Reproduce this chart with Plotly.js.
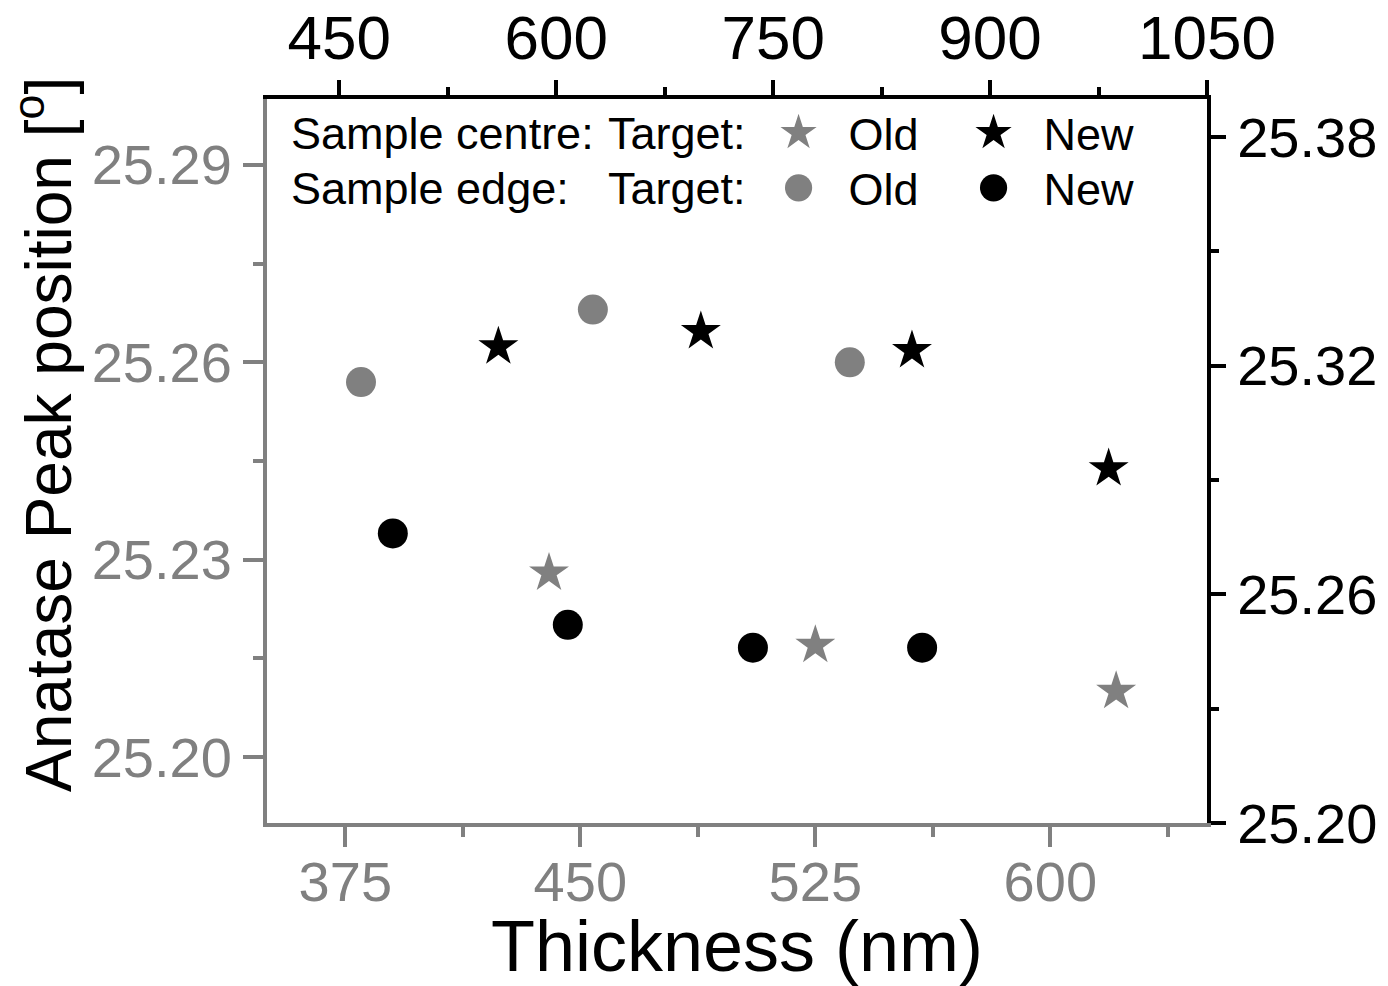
<!DOCTYPE html>
<html>
<head>
<meta charset="utf-8">
<script src="https://cdn.plot.ly/plotly-3.0.1.min.js"></script>
<style>html,body{margin:0;padding:0;background:#fff;}#chart{width:1388px;height:986px;}</style>
</head>
<body>
<div id="chart"></div>
<script>
// Old target (bottom / left axes, gray)
const oldCentreX = [440, 525, 621];
const oldCentreY = [25.228, 25.217, 25.210];
const oldEdgeX = [380, 454, 536];
const oldEdgeY = [25.257, 25.268, 25.260];
// New target (top / right axes, black)
const newCentreX = [560, 700, 846, 982];
const newCentreY = [25.325, 25.329, 25.324, 25.293];
const newEdgeX = [487, 608, 736, 853];
const newEdgeY = [25.276, 25.252, 25.246, 25.246];

const bottomTicks = [375, 450, 525, 600];
const topTicks = [450, 600, 750, 900, 1050];
const leftTicks = [25.20, 25.23, 25.26, 25.29];
const rightTicks = [25.20, 25.26, 25.32, 25.38];

const GRAY = '#808080';
const FONT = 'Liberation Sans, Arial, sans-serif';

const traces = [
  {x: oldCentreX, y: oldCentreY, xaxis: 'x', yaxis: 'y', mode: 'markers', name: 'Old', legend: 'legend',
   marker: {symbol: 'star', size: 30, color: GRAY}},
  {x: newCentreX, y: newCentreY, xaxis: 'x2', yaxis: 'y2', mode: 'markers', name: 'New', legend: 'legend',
   marker: {symbol: 'star', size: 30, color: '#000'}},
  {x: oldEdgeX, y: oldEdgeY, xaxis: 'x', yaxis: 'y', mode: 'markers', name: 'Old', legend: 'legend2',
   marker: {symbol: 'circle', size: 30, color: GRAY}},
  {x: newEdgeX, y: newEdgeY, xaxis: 'x2', yaxis: 'y2', mode: 'markers', name: 'New', legend: 'legend2',
   marker: {symbol: 'circle', size: 30, color: '#000'}}
];

const legendCommon = {
  orientation: 'h', xanchor: 'left', yanchor: 'middle',
  font: {family: FONT, size: 45, color: '#000'},
  bgcolor: 'rgba(0,0,0,0)', borderwidth: 0,
  entrywidth: 90, entrywidthmode: 'pixels',
  itemwidth: 90, traceorder: 'normal'
};

const labelFont = {family: FONT, size: 45, color: '#000'};
function label(text, xPaper, yPaper) {
  return {text: text, xref: 'paper', yref: 'paper', x: xPaper, y: yPaper,
          xanchor: 'left', yanchor: 'middle', showarrow: false, font: labelFont};
}

const layout = {
  width: 1388, height: 986,
  margin: {l: 267, r: 181, t: 99, b: 163, pad: 0},
  paper_bgcolor: '#fff', plot_bgcolor: '#fff',
  font: {family: FONT, color: '#000'},
  showlegend: true,
  legend: Object.assign({}, legendCommon, {x: 0.5123, y: 0.953}),
  legend2: Object.assign({}, legendCommon, {x: 0.5123, y: 0.877}),
  annotations: [
    label('Sample centre:', 0.0234, 0.953),
    label('Target:', 0.3606, 0.953),
    label('Sample edge:', 0.0234, 0.877),
    label('Target:', 0.3606, 0.877),
    {text: 'Anatase Peak position [<sup>o</sup>]', xref: 'paper', yref: 'paper',
     x: -0.2372, y: 0.536, xanchor: 'center', yanchor: 'middle', textangle: -90,
     showarrow: false, font: {family: FONT, size: 64, color: '#000'}}
  ],
  xaxis: {
    range: [350, 650], tickvals: bottomTicks, ticktext: bottomTicks.map(String),
    ticks: 'outside', ticklen: 20, tickwidth: 4, tickcolor: GRAY, ticklabelstandoff: -13,
    showline: true, linecolor: GRAY, linewidth: 4, showgrid: false, zeroline: false,
    tickfont: {family: FONT, size: 56, color: GRAY},
    minor: {dtick: 37.5, tick0: 375, ticks: 'outside', ticklen: 10, tickwidth: 4, tickcolor: GRAY, showgrid: false},
    title: {text: 'Thickness (nm)', font: {family: FONT, size: 72, color: '#000'}, standoff: 17}
  },
  xaxis2: {
    overlaying: 'x', side: 'top', anchor: 'y',
    range: [400, 1050], tickvals: topTicks, ticktext: topTicks.map(String),
    ticks: 'outside', ticklen: 15, tickwidth: 4, tickcolor: '#000', ticklabelstandoff: -4,
    showline: true, linecolor: '#000', linewidth: 4, showgrid: false, zeroline: false,
    tickfont: {family: FONT, size: 62, color: '#000'},
    minor: {dtick: 75, tick0: 450, ticks: 'outside', ticklen: 8, tickwidth: 4, tickcolor: '#000', showgrid: false}
  },
  yaxis: {
    range: [25.19, 25.30], tickvals: leftTicks, ticktext: leftTicks.map(v => v.toFixed(2)),
    ticks: 'outside', ticklen: 20, tickwidth: 4, tickcolor: GRAY,
    showline: true, linecolor: GRAY, linewidth: 4, showgrid: false, zeroline: false,
    tickfont: {family: FONT, size: 56, color: GRAY},
    minor: {dtick: 0.015, tick0: 25.20, ticks: 'outside', ticklen: 10, tickwidth: 4, tickcolor: GRAY, showgrid: false}
  },
  yaxis2: {
    overlaying: 'y', side: 'right', anchor: 'x',
    range: [25.20, 25.39], tickvals: rightTicks, ticktext: rightTicks.map(v => v.toFixed(2)),
    ticks: 'outside', ticklen: 15, tickwidth: 4, tickcolor: '#000',
    showline: true, linecolor: '#000', linewidth: 4, showgrid: false, zeroline: false,
    tickfont: {family: FONT, size: 56, color: '#000'},
    minor: {dtick: 0.03, tick0: 25.20, ticks: 'outside', ticklen: 8, tickwidth: 4, tickcolor: '#000', showgrid: false}
  }
};

Plotly.newPlot('chart', traces, layout, {staticPlot: true, displayModeBar: false}).then(function (gd) {
  // enlarge the legend keys (Plotly caps them at 16 px) to the size used in the original figure
  gd.querySelectorAll('.legendpoints path.scatterpts').forEach(function (p) {
    var t = p.getAttribute('transform') || '';
    p.setAttribute('transform', t + ' scale(1.7)');
  });
});
</script>
</body>
</html>
